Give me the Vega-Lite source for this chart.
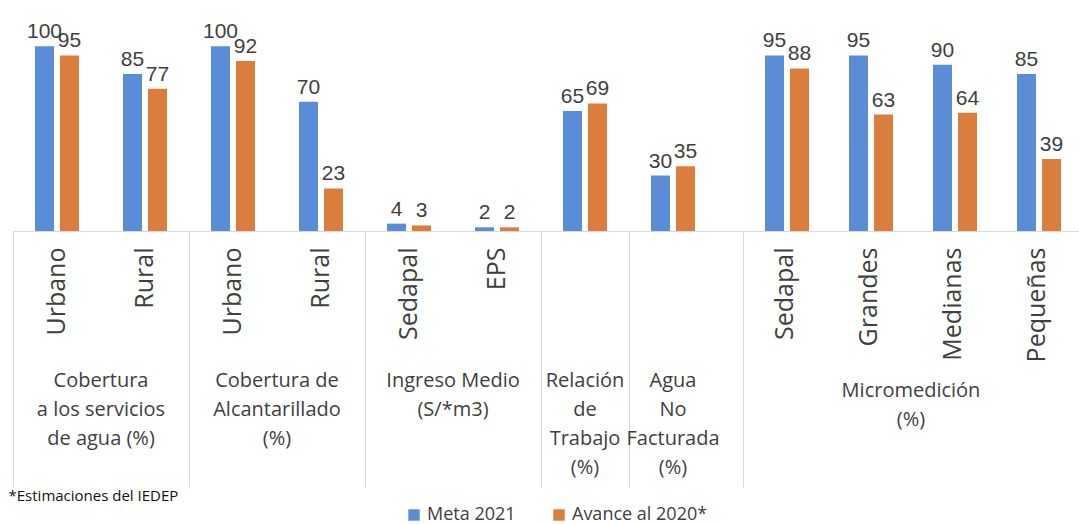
{
  "$schema": "https://vega.github.io/schema/vega-lite/v6.json",
  "padding": {"left": 8, "top": 0, "right": 0, "bottom": 0},
  "background": "white",
  "spacing": 0,
  "bounds": "flush",
  "data": {"values": [
    {"grupo": "Cobertura a los servicios de agua (%)", "cat": "Urbano#1", "serie": "Meta 2021", "valor": 100},
    {"grupo": "Cobertura a los servicios de agua (%)", "cat": "Urbano#1", "serie": "Avance al 2020*", "valor": 95},
    {"grupo": "Cobertura a los servicios de agua (%)", "cat": "Rural#1", "serie": "Meta 2021", "valor": 85},
    {"grupo": "Cobertura a los servicios de agua (%)", "cat": "Rural#1", "serie": "Avance al 2020*", "valor": 77},
    {"grupo": "Cobertura de Alcantarillado (%)", "cat": "Urbano#2", "serie": "Meta 2021", "valor": 100},
    {"grupo": "Cobertura de Alcantarillado (%)", "cat": "Urbano#2", "serie": "Avance al 2020*", "valor": 92},
    {"grupo": "Cobertura de Alcantarillado (%)", "cat": "Rural#2", "serie": "Meta 2021", "valor": 70},
    {"grupo": "Cobertura de Alcantarillado (%)", "cat": "Rural#2", "serie": "Avance al 2020*", "valor": 23},
    {"grupo": "Ingreso Medio (S/*m3)", "cat": "Sedapal#1", "serie": "Meta 2021", "valor": 4},
    {"grupo": "Ingreso Medio (S/*m3)", "cat": "Sedapal#1", "serie": "Avance al 2020*", "valor": 3},
    {"grupo": "Ingreso Medio (S/*m3)", "cat": "EPS#1", "serie": "Meta 2021", "valor": 2},
    {"grupo": "Ingreso Medio (S/*m3)", "cat": "EPS#1", "serie": "Avance al 2020*", "valor": 2},
    {"grupo": "Relación de Trabajo (%)", "cat": "#RT", "serie": "Meta 2021", "valor": 65},
    {"grupo": "Relación de Trabajo (%)", "cat": "#RT", "serie": "Avance al 2020*", "valor": 69},
    {"grupo": "Agua No Facturada (%)", "cat": "#ANF", "serie": "Meta 2021", "valor": 30},
    {"grupo": "Agua No Facturada (%)", "cat": "#ANF", "serie": "Avance al 2020*", "valor": 35},
    {"grupo": "Micromedición (%)", "cat": "Sedapal#2", "serie": "Meta 2021", "valor": 95},
    {"grupo": "Micromedición (%)", "cat": "Sedapal#2", "serie": "Avance al 2020*", "valor": 88},
    {"grupo": "Micromedición (%)", "cat": "Grandes#2", "serie": "Meta 2021", "valor": 95},
    {"grupo": "Micromedición (%)", "cat": "Grandes#2", "serie": "Avance al 2020*", "valor": 63},
    {"grupo": "Micromedición (%)", "cat": "Medianas#2", "serie": "Meta 2021", "valor": 90},
    {"grupo": "Micromedición (%)", "cat": "Medianas#2", "serie": "Avance al 2020*", "valor": 64},
    {"grupo": "Micromedición (%)", "cat": "Pequeñas#2", "serie": "Meta 2021", "valor": 85},
    {"grupo": "Micromedición (%)", "cat": "Pequeñas#2", "serie": "Avance al 2020*", "valor": 39}
  ]},
  "hconcat": [
    {
      "width": 730,
      "height": 231,
      "transform": [{"filter": "datum.grupo !== 'Micromedición (%)'"}],
      "resolve": {"axis": {"x": "independent"}},
      "layer": [
        {
          "mark": {"type": "bar"},
          "encoding": {
            "x": {"field": "cat", "type": "nominal", "sort": null,
              "scale": {"paddingInner": 0, "paddingOuter": 0.1477, "align": 0},
              "axis": {"orient": "bottom", "title": null, "labelExpr": "split(datum.value,'#')[0]", "labelAngle": -90, "labelAlign": "right", "labelBaseline": "middle", "labelPadding": 16, "ticks": false, "domain": true, "domainColor": "#d9d9d9", "domainWidth": 1, "grid": false, "labelFont": "Open Sans", "labelFontSize": 25, "labelColor": "#404040", "labelOverlap": false, "labelLimit": 300}},
            "xOffset": {"field": "serie", "type": "nominal", "sort": ["Meta 2021", "Avance al 2020*"], "scale": {"paddingInner": 0.24, "paddingOuter": 0.88}},
            "y": {"field": "valor", "type": "quantitative", "scale": {"domain": [0, 125]}, "axis": null},
            "color": {"field": "serie", "type": "nominal", "sort": ["Meta 2021", "Avance al 2020*"],
              "scale": {"domain": ["Meta 2021", "Avance al 2020*"], "range": ["#5B8CD6", "#DB7D3D"]},
              "legend": {"orient": "none", "legendX": 392, "legendY": 506, "direction": "horizontal", "title": null, "symbolType": "square", "symbolSize": 130, "symbolStrokeWidth": 0, "labelFont": "Open Sans", "labelFontSize": 18, "labelColor": "#404040", "columnPadding": 34}}
          }
        },
        {
          "mark": {"type": "text", "font": "Liberation Sans", "fontSize": 21, "color": "#404040", "baseline": "alphabetic", "dy": -8},
          "encoding": {
            "x": {"field": "cat", "type": "nominal", "sort": null,
              "scale": {"paddingInner": 0, "paddingOuter": 0.1477, "align": 0},
              "axis": {"orient": "bottom", "title": "*Estimaciones del IEDEP", "values": ["Urbano#1", "Urbano#2", "Sedapal#1", "#RT", "#ANF"], "bandPosition": 0, "ticks": true, "tickSize": 256, "tickColor": "#d9d9d9", "tickWidth": 1, "labels": false, "domain": false, "grid": false,
                "titleFont": "Open Sans", "titleFontSize": 15, "titleFontWeight": "normal", "titleColor": "#111111", "titleAnchor": "start", "titleAlign": "left", "titleBaseline": "top", "titleX": -5, "titleY": 257}},
            "xOffset": {"field": "serie", "type": "nominal", "sort": ["Meta 2021", "Avance al 2020*"], "scale": {"paddingInner": 0.24, "paddingOuter": 0.88}},
            "y": {"field": "valor", "type": "quantitative", "scale": {"domain": [0, 125]}, "axis": null},
            "text": {"field": "valor", "type": "quantitative"}
          }
        },
        {
          "mark": {"type": "rule", "strokeOpacity": 0},
          "encoding": {
            "x": {"field": "cat", "type": "nominal", "sort": null,
              "scale": {"paddingInner": 0, "paddingOuter": 0.1477, "align": 0},
              "axis": {"orient": "bottom", "title": null, "values": ["Urbano#1", "Urbano#2", "Sedapal#1"], "labelOffset": 44, "ticks": false, "domain": false, "grid": false, "labelAngle": 0, "labelAlign": "center", "labelBaseline": "top", "labelPadding": 139, "labelLineHeight": 29, "labelFont": "Open Sans", "labelFontSize": 20, "labelColor": "#404040", "labelOverlap": false, "labelLimit": 400,
                "labelExpr": "datum.value === 'Urbano#1' ? ['Cobertura','a los servicios','de agua (%)'] : datum.value === 'Urbano#2' ? ['Cobertura de','Alcantarillado','(%)'] : ['Ingreso Medio','(S/*m3)']"}}
          }
        },
        {
          "mark": {"type": "rule", "strokeOpacity": 0},
          "encoding": {
            "x": {"field": "cat", "type": "nominal", "sort": null,
              "scale": {"paddingInner": 0, "paddingOuter": 0.1477, "align": 0},
              "axis": {"orient": "bottom", "title": null, "values": ["#RT", "#ANF"], "ticks": false, "domain": false, "grid": false, "labelAngle": 0, "labelAlign": "center", "labelBaseline": "top", "labelPadding": 139, "labelLineHeight": 29, "labelFont": "Open Sans", "labelFontSize": 20, "labelColor": "#404040", "labelOverlap": false, "labelLimit": 400,
                "labelExpr": "datum.value === '#RT' ? ['Relación','de','Trabajo','(%)'] : ['Agua','No','Facturada','(%)']"}}
          }
        }
      ]
    },
    {
      "width": 336,
      "height": 231,
      "transform": [{"filter": "datum.grupo === 'Micromedición (%)'"}],
      "resolve": {"axis": {"x": "independent"}},
      "layer": [
        {
          "mark": {"type": "bar"},
          "encoding": {
            "x": {"field": "cat", "type": "nominal", "sort": null,
              "scale": {"paddingInner": 0, "paddingOuter": 0},
              "axis": {"orient": "bottom", "title": null, "labelExpr": "split(datum.value,'#')[0]", "labelAngle": -90, "labelAlign": "right", "labelBaseline": "middle", "labelPadding": 16, "ticks": false, "domain": true, "domainColor": "#d9d9d9", "domainWidth": 1, "grid": false, "labelFont": "Open Sans", "labelFontSize": 25, "labelColor": "#404040", "labelOverlap": false, "labelLimit": 300}},
            "xOffset": {"field": "serie", "type": "nominal", "sort": ["Meta 2021", "Avance al 2020*"], "scale": {"paddingInner": 0.24, "paddingOuter": 0.88}},
            "y": {"field": "valor", "type": "quantitative", "scale": {"domain": [0, 125]}, "axis": null},
            "color": {"field": "serie", "type": "nominal", "sort": ["Meta 2021", "Avance al 2020*"],
              "scale": {"domain": ["Meta 2021", "Avance al 2020*"], "range": ["#5B8CD6", "#DB7D3D"]},
              "legend": {"orient": "none", "legendX": 392, "legendY": 506, "direction": "horizontal", "title": null, "symbolType": "square", "symbolSize": 130, "symbolStrokeWidth": 0, "labelFont": "Open Sans", "labelFontSize": 18, "labelColor": "#404040", "columnPadding": 34}}
          }
        },
        {
          "mark": {"type": "text", "font": "Liberation Sans", "fontSize": 21, "color": "#404040", "baseline": "alphabetic", "dy": -8},
          "encoding": {
            "x": {"field": "cat", "type": "nominal", "sort": null,
              "scale": {"paddingInner": 0, "paddingOuter": 0},
              "axis": {"orient": "bottom", "title": null, "values": ["Sedapal#2"], "bandPosition": 0, "ticks": true, "tickSize": 256, "tickColor": "#d9d9d9", "tickWidth": 1, "labels": false, "domain": false, "grid": false}},
            "xOffset": {"field": "serie", "type": "nominal", "sort": ["Meta 2021", "Avance al 2020*"], "scale": {"paddingInner": 0.24, "paddingOuter": 0.88}},
            "y": {"field": "valor", "type": "quantitative", "scale": {"domain": [0, 125]}, "axis": null},
            "text": {"field": "valor", "type": "quantitative"}
          }
        },
        {
          "mark": {"type": "rule", "strokeOpacity": 0},
          "encoding": {
            "x": {"field": "cat", "type": "nominal", "sort": null,
              "scale": {"paddingInner": 0, "paddingOuter": 0},
              "axis": {"orient": "bottom", "title": null, "values": ["Grandes#2"], "labelOffset": 42, "ticks": false, "domain": false, "grid": false, "labelAngle": 0, "labelAlign": "center", "labelBaseline": "top", "labelPadding": 149, "labelLineHeight": 29, "labelFont": "Open Sans", "labelFontSize": 20, "labelColor": "#404040", "labelOverlap": false, "labelLimit": 400,
                "labelExpr": "['Micromedición','(%)']"}}
          }
        }
      ]
    }
  ],
  "config": {
    "view": {"stroke": null}
  }
}
